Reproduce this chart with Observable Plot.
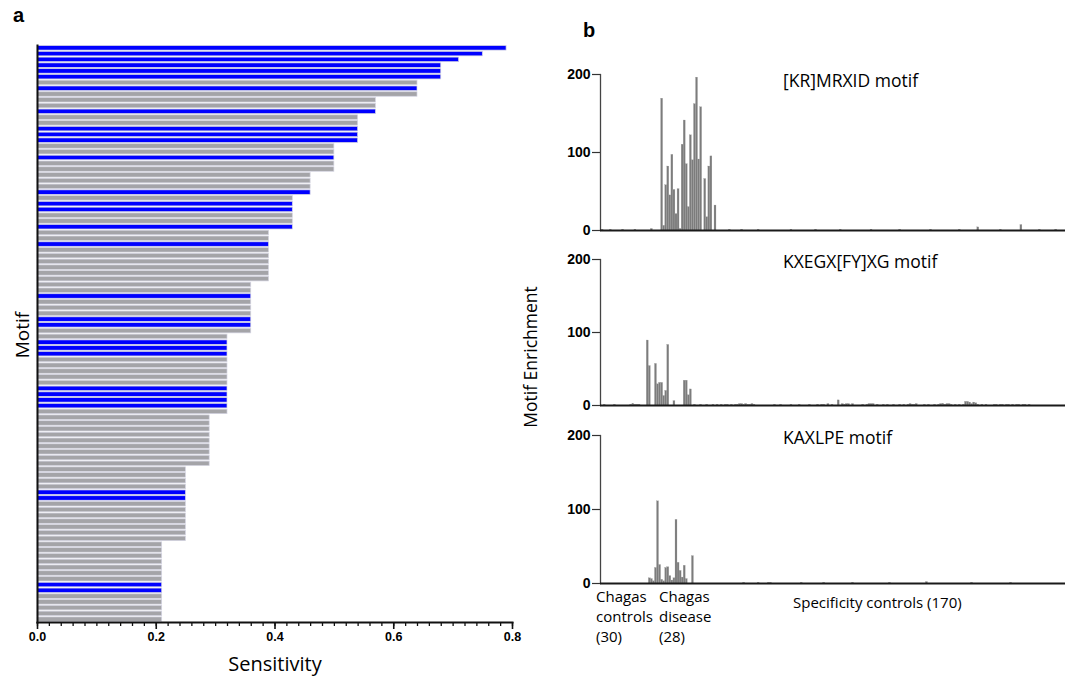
<!DOCTYPE html>
<html>
<head>
<meta charset="utf-8">
<script src="https://cdn.jsdelivr.net/npm/d3@7"></script>
<script src="https://cdn.jsdelivr.net/npm/@observablehq/plot@0.6"></script>
<style>
  html, body { margin: 0; padding: 0; background: #fff; }
  #wrap { position: relative; width: 1072px; height: 677px; overflow: hidden; background: #fff; font-family: "Open Sans", sans-serif; color: #000; }
  #wrap > svg { position: absolute; overflow: visible; }
  .t { position: absolute; white-space: pre; line-height: normal; }
  .panel { font-family: "Liberation Sans", Arial, sans-serif; font-weight: bold; font-size: 20px; line-height: 1; }
  .rot { transform: translate(-50%, -50%) rotate(-90deg); }
</style>
</head>
<body>
<div id="wrap"></div>
<script>
// ---------------- Panel a: motif sensitivity ----------------
const sensitivity = [
  0.79, 0.75, 0.71, 0.68, 0.68, 0.68, 0.64, 0.64, 0.64, 0.57,
  0.57, 0.57, 0.54, 0.54, 0.54, 0.54, 0.54, 0.50, 0.50, 0.50,
  0.50, 0.50, 0.46, 0.46, 0.46, 0.46, 0.43, 0.43, 0.43, 0.43,
  0.43, 0.43, 0.39, 0.39, 0.39, 0.39, 0.39, 0.39, 0.39, 0.39,
  0.39, 0.36, 0.36, 0.36, 0.36, 0.36, 0.36, 0.36, 0.36, 0.36,
  0.32, 0.32, 0.32, 0.32, 0.32, 0.32, 0.32, 0.32, 0.32, 0.32,
  0.32, 0.32, 0.32, 0.32, 0.29, 0.29, 0.29, 0.29, 0.29, 0.29,
  0.29, 0.29, 0.29, 0.25, 0.25, 0.25, 0.25, 0.25, 0.25, 0.25,
  0.25, 0.25, 0.25, 0.25, 0.25, 0.25, 0.21, 0.21, 0.21, 0.21,
  0.21, 0.21, 0.21, 0.21, 0.21, 0.21, 0.21, 0.21, 0.21, 0.21
];
const motifClass = [
  "b","b","b","b","b","b","g","b","g","g",
  "g","b","g","g","b","b","b","g","g","b",
  "g","g","g","g","g","b","g","b","b","g",
  "g","b","g","g","b","g","g","g","g","g",
  "g","g","g","b","g","g","g","b","b","g",
  "g","b","b","b","g","g","g","g","g","b",
  "b","b","b","g","g","g","g","g","g","g",
  "g","g","g","g","g","g","g","b","b","g",
  "g","g","g","g","g","g","g","g","g","g",
  "g","g","g","b","b","g","g","g","g","g"
];
const motifIds = sensitivity.map((_, k) => "motif " + (k + 1));
const xMajorTicks = [0, 0.2, 0.4, 0.6, 0.8];
const xMinorTicks = d3.range(0, 0.801, 0.02);

// ---------------- Panel b: motif enrichment per sample ----------------
const groupNames = ["Chagas controls", "Chagas disease", "Specificity controls"];
const groupSizes = [30, 28, 170];
const enrichTicks = [0, 100, 200];

// [KR]MRXID motif
const krControls = [
  0,0,1,0,0,0,1,0,0,0,
  0,0,1,0,0,0,0,0,1,0,
  0,0,0,0,0,0,2,0,0,0
];
const krDisease = [
  0,169,6,58,82,45,97,52,21,53,
  2,110,141,85,30,122,90,162,196,91,
  158,0,66,17,82,95,0,32
];
const krSpecificity = [
  0,0,0,0,0,0,1,0,0,0,
  0,0,1,0,0,0,0,0,0,0,
  1,0,0,0,0,0,0,0,0,0,
  0,0,0,0,0,0,1,0,0,0,
  0,0,0,0,0,0,0,0,1,0,
  0,0,0,0,0,0,0,0,0,0,
  1,0,0,0,0,0,0,0,0,0,
  0,0,0,0,0,1,0,0,0,0,
  0,0,0,0,0,0,0,0,0,1,
  0,0,0,0,0,0,0,0,0,0,
  0,0,0,0,1,0,0,0,0,0,
  0,0,0,0,0,0,0,0,1,0,
  0,0,0,0,0,0,0,4,0,0,
  0,0,0,0,0,0,0,0,1,0,
  0,0,0,0,0,0,0,0,7,0,
  0,0,0,0,0,0,0,1,0,0,
  0,0,0,0,0,1,0,0,0,0
];

// KXEGX[FY]XG motif
const kxControls = [
  0,0,0,1,0,0,0,0,1,0,
  0,0,0,0,0,0,1,2,1,1,
  1,0,0,0,89,54,0,0,57,29
];
const kxDisease = [
  31,31,13,20,83,0,0,6,0,0,
  0,0,34,34,14,22,0,1,0,0,
  1,0,0,1,0,0,1,0
];
const kxSpecificity = [
  1,0,1,0,1,1,0,1,0,1,
  1,2,2,1,2,1,1,2,1,0,
  0,0,0,0,0,0,0,0,1,0,
  0,1,0,0,0,0,1,0,0,0,
  1,0,0,0,0,1,0,0,0,1,
  0,1,1,0,2,0,1,0,0,7,
  0,2,1,2,2,0,2,0,0,0,
  0,1,0,1,2,2,2,0,1,0,
  0,1,0,1,0,0,1,0,0,1,
  0,1,0,1,2,1,1,2,0,0,
  0,1,0,1,0,0,1,0,1,2,
  2,1,2,2,1,0,1,0,1,0,
  1,5,5,4,2,4,3,1,0,1,
  0,1,0,0,0,1,1,0,1,1,
  0,1,1,0,1,0,1,1,0,1,
  1,0,1,0,0,0,0,0,0,0,
  0,0,0,0,0,0,0,0,0,0
];

// KAXLPE motif
const kaControls = [
  0,0,0,0,0,0,0,0,0,0,
  0,0,0,0,0,0,0,0,0,0,
  0,0,0,0,0,7,6,3,21,111
];
const kaDisease = [
  25,5,3,21,22,10,4,7,86,28,
  17,8,24,6,0,0,37,0,0,0,
  0,0,0,0,0,0,0,0
];
const kaSpecificity = [
  0,0,0,0,0,0,0,0,0,0,
  0,0,0,1,0,0,0,0,0,0,
  1,0,0,0,0,1,1,0,0,0,
  0,0,0,0,0,0,0,0,0,0,
  0,1,0,0,0,0,0,0,0,0,
  0,0,1,0,0,0,0,0,0,0,
  0,0,0,0,0,0,1,0,0,0,
  0,0,0,0,0,0,0,0,0,0,
  0,0,0,0,1,0,0,0,0,0,
  0,0,0,0,0,0,0,0,0,0,
  0,0,2,0,0,0,0,0,0,0,
  0,0,0,0,0,0,0,0,0,0,
  0,0,0,0,1,0,0,0,0,0,
  0,0,0,0,0,0,0,0,0,0,
  0,0,0,1,0,0,0,0,0,0,
  0,0,0,0,0,0,0,0,0,0,
  0,0,0,0,0,0,0,0,0,0
];

const motifTitles = ["[KR]MRXID motif", "KXEGX[FY]XG motif", "KAXLPE motif"];

// ---------------- build ----------------
const wrap = document.getElementById("wrap");
function place(el, left, top) { el.style.left = left + "px"; el.style.top = top + "px"; wrap.appendChild(el); return el; }
function label(text, left, top, style, cls) {
  const d = document.createElement("div");
  d.className = "t " + (cls || "");
  d.textContent = text;
  Object.assign(d.style, style || {});
  return place(d, left, top);
}

// Panel a
const motifRows = sensitivity.map((s, k) => ({motif: motifIds[k], s, cls: motifClass[k]}));
const plotA = Plot.plot({
  width: 540, height: 677,
  marginLeft: 37, marginRight: 28, marginTop: 45, marginBottom: 55,
  style: {fontFamily: "'Liberation Sans', Arial, sans-serif", fontSize: "12.5px", fontWeight: "bold", background: "transparent"},
  x: {domain: [0, 0.8], label: null},
  y: {type: "band", domain: motifIds, paddingInner: 0.22, paddingOuter: 0.1, round: false, axis: null},
  color: {domain: ["b", "g"], range: ["#0000ff", "#a4a4a8"]},
  marks: [
    Plot.barX(motifRows, {x: "s", y: "motif", fill: "cls", stroke: "#d4d4e2", strokeWidth: 0.7}),
    Plot.axisX({ticks: xMinorTicks, tickSize: 4, tickFormat: () => "", label: null, strokeWidth: 1.3, stroke: "#111"}),
    Plot.axisX({ticks: xMajorTicks, tickSize: 7, tickPadding: 3, tickFormat: d3.format(".1f"), label: null, strokeWidth: 1.6, stroke: "#111"}),
    Plot.frame({anchor: "left", stroke: "#111", strokeWidth: 2}),
    Plot.frame({anchor: "bottom", stroke: "#111", strokeWidth: 2})
  ]
});
place(plotA, 0, 0);

// Panel b
const sampleIndex = d3.range(d3.sum(groupSizes));
function enrichRows(controls, disease, specificity) {
  return controls.concat(disease, specificity).map((v, i) => ({i, v}));
}
function enrichPlot(rows, plotH) {
  return Plot.plot({
    width: 532, height: 14 + plotH + 10,
    marginLeft: 60, marginRight: 7, marginTop: 14, marginBottom: 10,
    style: {fontFamily: "'Liberation Sans', Arial, sans-serif", fontSize: "14px", fontWeight: "bold", background: "transparent"},
    x: {type: "band", domain: sampleIndex, range: [57, 525], paddingInner: 0.04, paddingOuter: 0, round: false, axis: null},
    y: {domain: [0, 200], label: null},
    marks: [
      Plot.barY(rows, {x: "i", y: "v", fill: "#7c7c7c", stroke: "#9a9a9a", strokeWidth: 0.25}),
      Plot.axisY({ticks: enrichTicks, tickSize: 8, tickPadding: 2, label: null, stroke: "#333", strokeWidth: 1.2}),
      Plot.frame({anchor: "left", stroke: "#444", strokeWidth: 1.3}),
      Plot.ruleY([0], {stroke: "#1a1a1a", strokeWidth: 2})
    ]
  });
}
place(enrichPlot(enrichRows(krControls, krDisease, krSpecificity), 156), 540, 60);
place(enrichPlot(enrichRows(kxControls, kxDisease, kxSpecificity), 146), 540, 245);
place(enrichPlot(enrichRows(kaControls, kaDisease, kaSpecificity), 148), 540, 421);

// Text
label("a", 13, 5, {}, "panel");
label("b", 583, 20, {}, "panel");
label("Motif", 22, 335, {fontSize: "19px"}, "rot");
label("Sensitivity", 275, 650, {fontSize: "20px", transform: "translateX(-50%)"});
label("Motif Enrichment", 530, 357, {fontSize: "17.5px"}, "rot");
label(motifTitles[0], 783, 68, {fontSize: "17.5px"});
label(motifTitles[1], 783, 249, {fontSize: "17.5px"});
label(motifTitles[2], 783, 425, {fontSize: "17.5px"});
label("Chagas\ncontrols\n(30)", 596, 586, {fontSize: "15px", lineHeight: "20px"});
label("Chagas\ndisease\n(28)", 659, 586, {fontSize: "15px", lineHeight: "20px"});
label("Specificity controls (170)", 793, 592, {fontSize: "15px"});
</script>
</body>
</html>
